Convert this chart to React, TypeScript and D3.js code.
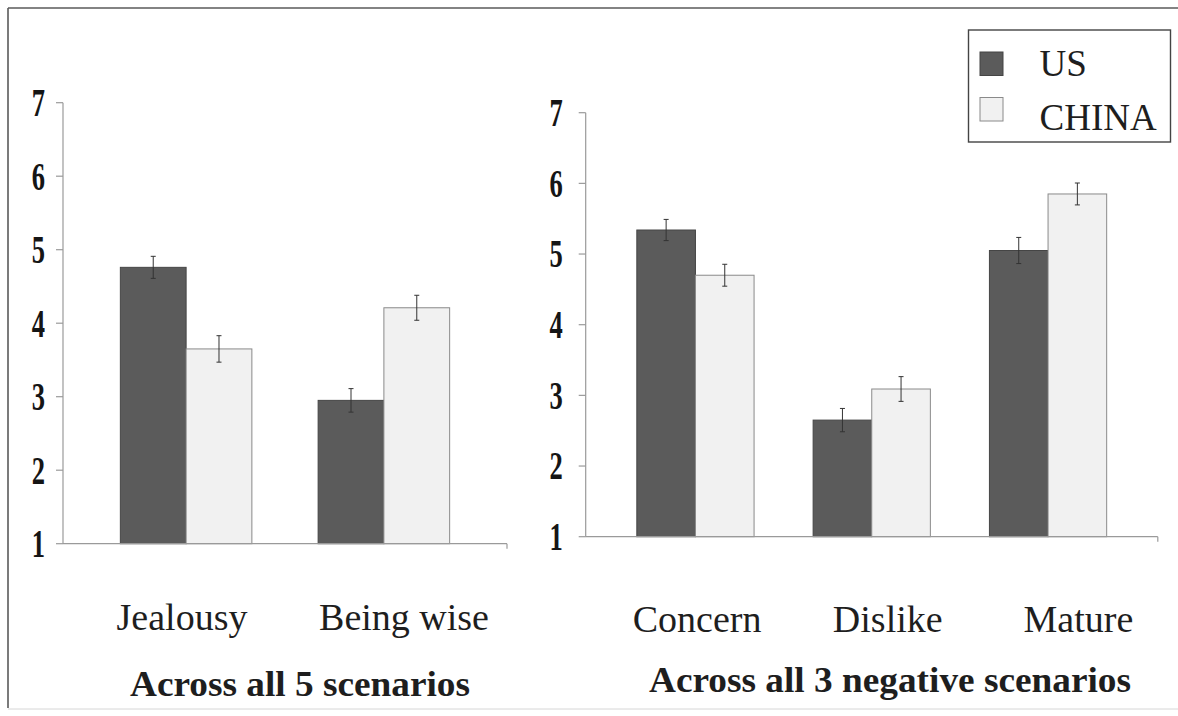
import React from "react";
import * as d3 from "d3";

// data
const seriesNames = ["US", "CHINA"];
const yTicks = [1, 2, 3, 4, 5, 6, 7];

const leftCategories = ["Jealousy", "Being wise"];
const leftUS = [4.76, 2.95];
const leftChina = [3.65, 4.21];
const leftUSErr = [0.15, 0.16];
const leftChinaErr = [0.18, 0.17];

const rightCategories = ["Concern", "Dislike", "Mature"];
const rightUS = [5.34, 2.65, 5.05];
const rightChina = [4.7, 3.09, 5.85];
const rightUSErr = [0.15, 0.165, 0.185];
const rightChinaErr = [0.155, 0.175, 0.155];

const seriesFill = ["#5b5b5b", "#f1f1f1"];
const seriesStroke = ["#454545", "#8a8a8a"];
const axisColor = "#9a9a9a";
const textColor = "#1e1e1e";
const serif = "Liberation Serif, DejaVu Serif, serif";

type PanelProps = {
  categories: string[];
  us: number[];
  china: number[];
  usErr: number[];
  chinaErr: number[];
  x0: number;
  x1: number;
  yBottom: number;
  yTop: number;
  tickGap: number;
  labelDx: number;
  labelY: number;
  title: string;
  titleX: number;
  titleY: number;
  titleLength: number;
};

const Panel = (p: PanelProps) => {
  const y = d3.scaleLinear().domain([1, 7]).range([p.yBottom, p.yTop]);

  // bar groups
  const x = d3.scaleBand()
    .domain(p.categories)
    .range([p.x0, p.x1])
    .paddingInner(0.335)
    .paddingOuter(0.29);
  const xs = d3.scaleBand().domain(seriesNames).range([0, x.bandwidth()]);

  // category slots for the labels
  const xl = d3.scaleBand().domain(p.categories).range([p.x0, p.x1]);

  const values = [p.us, p.china];
  const errs = [p.usErr, p.chinaErr];

  return (
    <g>
      {/* y axis */}
      <line x1={p.x0} x2={p.x0} y1={y(7)} y2={y(1)} stroke={axisColor} strokeWidth={1.2} />
      {yTicks.map(t => (
        <g key={t}>
          <line x1={p.x0 - 7} x2={p.x0} y1={y(t)} y2={y(t)} stroke={axisColor} strokeWidth={1.2} />
          <text
            transform={`translate(${p.x0 - p.tickGap},${y(t)}) scale(0.68,1)`}
            textAnchor="end"
            dominantBaseline="central"
            style={{ fontFamily: serif }}
            fontSize={39}
            fontWeight="bold"
            fill="#151515"
          >
            {t}
          </text>
        </g>
      ))}

      {/* bars */}
      {p.categories.map((c, i) =>
        seriesNames.map((s, k) => {
          const bx = (x(c) as number) + (xs(s) as number);
          const v = values[k][i];
          const e = errs[k][i];
          const cx = bx + xs.bandwidth() / 2;
          return (
            <g key={c + s}>
              <rect
                x={bx}
                y={y(v)}
                width={xs.bandwidth()}
                height={y(1) - y(v)}
                fill={seriesFill[k]}
                stroke={seriesStroke[k]}
                strokeWidth={1}
              />
              <line x1={cx} x2={cx} y1={y(v + e)} y2={y(v - e)} stroke="#333" strokeWidth={1} />
              <line x1={cx - 2.5} x2={cx + 2.5} y1={y(v + e)} y2={y(v + e)} stroke="#333" strokeWidth={1} />
              <line x1={cx - 2.5} x2={cx + 2.5} y1={y(v - e)} y2={y(v - e)} stroke="#333" strokeWidth={1} />
            </g>
          );
        })
      )}

      {/* x axis */}
      <line x1={p.x0} x2={p.x1} y1={y(1)} y2={y(1)} stroke={axisColor} strokeWidth={1.2} />
      <line x1={p.x1} x2={p.x1} y1={y(1)} y2={y(1) + 5} stroke={axisColor} strokeWidth={1.2} />

      {p.categories.map(c => (
        <text
          key={c}
          x={(xl(c) as number) + xl.bandwidth() / 2 + p.labelDx}
          y={p.labelY}
          textAnchor="middle"
          style={{ fontFamily: serif }}
          fontSize={38}
          fill={textColor}
        >
          {c}
        </text>
      ))}

      <text
        x={p.titleX}
        y={p.titleY}
        textAnchor="middle"
        style={{ fontFamily: serif }}
        fontWeight="bold"
        fontSize={35}
        textLength={p.titleLength}
        lengthAdjust="spacingAndGlyphs"
        fill={textColor}
      >
        {p.title}
      </text>
    </g>
  );
};

const App = () => {
  return (
    <svg
      width={1178}
      height={716}
      style={{ position: "absolute", left: 0, top: 0, background: "#fff" }}
    >
      {/* outer frame */}
      <line x1={8} x2={1178} y1={8} y2={8} stroke="#5a5a5a" strokeWidth={1.6} />
      <line x1={8} x2={8} y1={8} y2={708} stroke="#5a5a5a" strokeWidth={1.6} />
      <line x1={8} x2={1178} y1={709} y2={709} stroke="#d6d6d6" strokeWidth={1} />

      <Panel
        categories={leftCategories}
        us={leftUS}
        china={leftChina}
        usErr={leftUSErr}
        chinaErr={leftChinaErr}
        x0={63}
        x1={507}
        yBottom={543.7}
        yTop={102.7}
        tickGap={18}
        labelDx={8}
        labelY={630}
        title="Across all 5 scenarios"
        titleX={300}
        titleY={696}
        titleLength={340}
      />
      <Panel
        categories={rightCategories}
        us={rightUS}
        china={rightChina}
        usErr={rightUSErr}
        chinaErr={rightChinaErr}
        x0={585.7}
        x1={1157.8}
        yBottom={536.7}
        yTop={112.7}
        tickGap={23}
        labelDx={16}
        labelY={632}
        title="Across all 3 negative scenarios"
        titleX={890}
        titleY={692}
        titleLength={482}
      />

      {/* legend */}
      <rect x={968.5} y={30} width={202} height={112} fill="#fff" stroke="#444" strokeWidth={1.4} />
      {seriesNames.map((s, i) => (
        <g key={s}>
          <rect
            x={980}
            y={52 + i * 45.5}
            width={23}
            height={23.5}
            fill={seriesFill[i]}
            stroke={seriesStroke[i]}
            strokeWidth={1}
          />
          <text x={1039.6} y={76 + i * 53.5} style={{ fontFamily: serif }} fontSize={37} fill={textColor}>
            {s}
          </text>
        </g>
      ))}
    </svg>
  );
};

export default App;
